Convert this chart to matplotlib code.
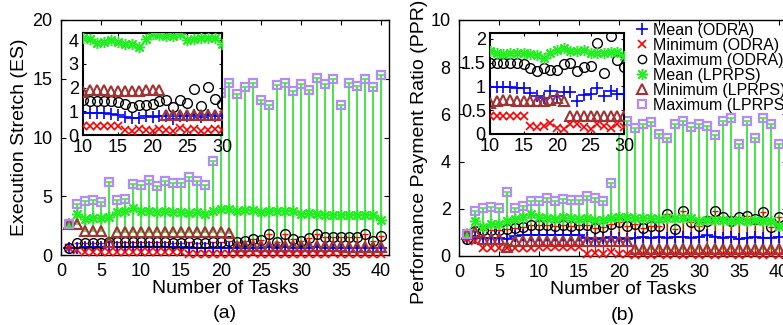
import matplotlib
matplotlib.use('Agg')
import matplotlib.pyplot as plt
from matplotlib.lines import Line2D
import numpy as np

plt.rcParams['font.family'] = ['Liberation Sans', 'DejaVu Sans']

# ---------------- data ----------------
tasks = list(range(1, 41))
inset_tasks = list(range(10, 31))

# (a) Execution Stretch
es_mean_odra = [0.57, 0.62, 0.66, 0.66, 0.66, 0.66, 0.7, 0.7, 0.7, 0.72, 0.72, 0.72, 0.72, 0.7, 0.66, 0.6, 0.58, 0.58, 0.62, 0.6,
                0.62, 0.62, 0.56, 0.62, 0.62, 0.66, 0.6, 0.66, 0.62, 0.62, 0.62, 0.66, 0.62, 0.62, 0.62, 0.6, 0.62, 0.62, 0.58, 0.62]
es_min_odra = [0.57, 0.45, 0.23, 0.23, 0.23, 0.23, 0.23, 0.23, 0.23, 0.23, 0.23, 0.23, 0.23, 0.23, 0.23, 0.05, 0.1, 0.08, 0.1, 0.05,
               0.05, 0.1, 0.05, 0.15, 0.1, 0.05, 0.1, 0.08, 0.12, 0.05, 0.1, 0.05, 0.1, 0.15, 0.08, 0.05, 0.1, 0.12, 0.05, 0.1]
es_max_odra = [0.57, 1.0, 1.0, 1.0, 1.0, 1.1, 1.08, 1.08, 1.08, 1.08, 1.08, 1.08, 1.08, 1.0, 1.0, 1.08, 1.0, 1.0, 1.08, 1.08,
               1.23, 1.08, 1.23, 1.37, 1.29, 1.8, 1.14, 1.8, 1.37, 1.23, 1.46, 1.8, 1.57, 1.51, 1.57, 1.57, 1.51, 1.8, 1.17, 1.65]
es_mean_lprps = [2.6, 3.5, 3.07, 3.16, 3.16, 3.27, 3.7, 3.78, 3.98, 3.78, 3.78, 3.64, 3.78, 3.7, 3.64, 3.58, 3.64, 3.5, 3.78, 3.92,
                 3.93, 3.78, 3.84, 3.87, 3.7, 3.76, 3.76, 3.76, 3.76, 3.5, 3.56, 3.5, 3.44, 3.44, 3.41, 3.44, 3.44, 3.44, 3.44, 2.99]
es_min_lprps = [2.6, 2.6, 2.02, 2.02, 2.02, 1.08, 1.94, 1.94, 1.94, 1.94, 1.94, 1.94, 1.94, 1.94, 1.94, 1.94, 1.94, 1.94, 1.94, 1.94,
                1.9, 0.8, 0.8, 0.8, 0.8, 0.8, 0.8, 0.8, 0.8, 0.8, 0.8, 0.8, 0.8, 0.8, 0.8, 0.7, 0.7, 0.7, 0.7, 0.7]
es_max_lprps = [2.6, 4.35, 4.57, 4.7, 4.55, 6.2, 4.7, 4.8, 6.05, 5.97, 6.4, 5.83, 6.34, 6.14, 6.14, 6.62, 6.34, 6.0, 8.0, 13.8,
                14.6, 13.7, 14.3, 14.6, 13.2, 12.75, 14.46, 14.66, 13.98, 14.54, 14.06, 15.08, 14.57, 14.94, 12.8, 14.63, 14.35, 14.94, 14.26, 15.28]

# (a) inset, tasks 10..30
es_in_mean_odra = [0.92, 0.92, 0.92, 0.92, 0.9, 0.85, 0.75, 0.72, 0.72, 0.8, 0.75, 0.8, 0.78, 0.68, 0.8, 0.8, 0.85, 0.75, 0.85, 0.8, 0.8]
es_in_min_odra = [0.38, 0.38, 0.38, 0.38, 0.38, 0.38, 0.2, 0.15, 0.25, 0.2, 0.15, 0.25, 0.2, 0.15, 0.3, 0.2, 0.25, 0.15, 0.2, 0.25, 0.2]
es_in_max_odra = [1.48, 1.45, 1.45, 1.45, 1.43, 1.41, 1.31, 1.19, 1.27, 1.27, 1.31, 1.43, 1.48, 1.19, 1.48, 1.36, 1.93, 1.22, 2.01, 1.51, 1.31]
es_in_mean_lprps = [4.08, 4.04, 3.89, 3.94, 4.01, 3.94, 3.84, 3.84, 3.73, 4.04, 4.26, 4.22, 4.18, 4.18, 4.25, 4.01, 4.04, 4.08, 4.08, 4.08, 3.83]
es_in_min_lprps = [1.8, 1.9, 1.88, 1.88, 1.86, 1.86, 1.84, 1.84, 1.86, 1.88, 1.88, 1.88, 0.84, 0.84, 0.84, 0.84, 0.84, 0.84, 0.84, 0.84, 0.84]

# (b) Performance Payment Ratio
ppr_mean_odra = [0.72, 0.76, 0.76, 0.76, 0.76, 0.72, 0.85, 0.88, 0.9, 0.9, 0.9, 0.9, 0.9, 0.88, 0.88, 0.76, 0.72, 0.76, 0.8, 0.76,
                 0.72, 0.76, 0.8, 0.76, 0.8, 0.78, 0.8, 0.82, 0.78, 0.8, 0.88, 0.82, 0.78, 0.82, 0.7, 0.78, 0.8, 0.78, 0.78, 0.8]
ppr_min_odra = [0.72, 0.65, 0.34, 0.34, 0.34, 0.34, 0.34, 0.34, 0.34, 0.37, 0.37, 0.37, 0.37, 0.37, 0.37, 0.1, 0.12, 0.1, 0.15, 0.08,
                0.1, 0.05, 0.08, 0.05, 0.1, 0.05, 0.08, 0.05, 0.08, 0.05, 0.1, 0.05, 0.08, 0.1, 0.05, 0.08, 0.1, 0.05, 0.1, 0.05]
ppr_max_odra = [0.72, 1.07, 1.1, 1.1, 1.1, 1.14, 1.19, 1.24, 1.31, 1.31, 1.31, 1.28, 1.31, 1.28, 1.31, 1.31, 1.19, 1.24, 1.36, 1.42,
                1.28, 1.36, 1.19, 1.28, 1.28, 1.8, 1.14, 1.92, 1.42, 1.28, 1.5, 1.92, 1.66, 1.5, 1.64, 1.71, 1.57, 1.85, 1.21, 1.66]
ppr_mean_lprps = [0.93, 1.47, 1.21, 1.36, 1.36, 1.5, 1.57, 1.66, 1.78, 1.66, 1.61, 1.57, 1.64, 1.61, 1.57, 1.61, 1.52, 1.52, 1.61, 1.66,
                  1.66, 1.61, 1.61, 1.61, 1.57, 1.61, 1.61, 1.61, 1.61, 1.5, 1.52, 1.52, 1.52, 1.5, 1.52, 1.5, 1.52, 1.5, 1.5, 1.28]
ppr_min_lprps = [0.93, 1.0, 0.72, 0.72, 0.72, 0.4, 0.65, 0.65, 0.65, 0.65, 0.65, 0.65, 0.65, 0.65, 0.65, 0.65, 0.65, 0.65, 0.65, 0.65,
                 0.65, 0.3, 0.3, 0.3, 0.3, 0.3, 0.3, 0.3, 0.3, 0.3, 0.3, 0.3, 0.3, 0.3, 0.3, 0.3, 0.3, 0.3, 0.3, 0.3]
ppr_max_lprps = [0.93, 1.92, 2.02, 2.09, 2.02, 2.73, 2.03, 2.1, 2.34, 2.34, 2.44, 2.31, 2.41, 2.37, 2.37, 2.55, 2.44, 2.31, 3.11, 5.6,
                 5.72, 5.41, 5.58, 5.69, 5.16, 5.02, 5.61, 5.72, 5.47, 5.58, 5.51, 5.13, 5.72, 5.83, 4.74, 5.72, 4.99, 5.83, 5.61, 4.74]

# (b) inset, tasks 10..30
ppr_in_mean_odra = [0.99, 0.99, 0.99, 0.99, 0.97, 0.97, 0.87, 0.79, 0.76, 0.9, 0.8, 0.88, 0.88, 0.69, 0.81, 0.85, 0.97, 0.79, 0.9, 0.85, 0.85]
ppr_in_min_odra = [0.37, 0.37, 0.37, 0.37, 0.37, 0.37, 0.17, 0.15, 0.17, 0.24, 0.12, 0.1, 0.2, 0.2, 0.15, 0.1, 0.2, 0.17, 0.12, 0.22, 0.15]
ppr_in_max_odra = [1.49, 1.49, 1.49, 1.49, 1.48, 1.46, 1.39, 1.32, 1.39, 1.35, 1.35, 1.47, 1.48, 1.32, 1.4, 1.42, 1.92, 1.27, 2.05, 1.55, 1.41]
ppr_in_mean_lprps = [1.74, 1.7, 1.68, 1.7, 1.71, 1.7, 1.67, 1.65, 1.6, 1.71, 1.77, 1.81, 1.74, 1.75, 1.76, 1.7, 1.71, 1.71, 1.72, 1.72, 1.63]
ppr_in_min_lprps = [0.66, 0.7, 0.72, 0.72, 0.7, 0.69, 0.69, 0.7, 0.7, 0.71, 0.75, 0.69, 0.37, 0.37, 0.37, 0.37, 0.37, 0.37, 0.37, 0.37, 0.37]

legend_labels = ['Mean (ODRA)', 'Minimum (ODRA)', 'Maximum (ODRA)',
                 'Mean (LPRPS)', 'Minimum (LPRPS)', 'Maximum (LPRPS)']

# ---------------- styles ----------------
BLUE = '#0000ff'
RED = '#ff0000'
GREEN = '#22ee22'
GREEN_BAR = '#44e844'
BROWN = '#a33333'
PURPLE = '#b48cf5'
AST = (8, 2, 0)

FS = 13      # tick labels
LFS = 14     # axis labels

fig = plt.figure(figsize=(7.83, 3.25), dpi=100)


def px_axes(l, t, r, b, **kw):
    return fig.add_axes([l / 783, 1 - b / 325, (r - l) / 783, (b - t) / 325], **kw)


def style_axes(ax, fs, pad):
    ax.tick_params(direction='in', top=True, right=True, labelsize=fs, pad=pad,
                   length=3.5, width=0.8)
    for s in ax.spines.values():
        s.set_linewidth(1.0)
        s.set_color('black')


def draw_main(ax, mean_o, min_o, max_o, mean_l, min_l, max_l):
    x = tasks
    ax.vlines(x, min_l, max_l, color=GREEN_BAR, lw=1.4, zorder=1)
    ax.plot(x, max_l, ls='none', marker='_', ms=4, mew=1.2, color=GREEN_BAR, zorder=1)
    ax.plot(x, min_l, ls='none', marker='_', ms=4, mew=1.2, color=GREEN_BAR, zorder=1)
    ax.vlines(x, min_o, max_o, color=RED, lw=0.9, zorder=2)
    ax.plot(x, max_o, ls='none', marker='_', ms=4, mew=1.0, color=RED, zorder=2)
    ax.plot(x, mean_o, color=BLUE, lw=1.0, marker='+', ms=8, mew=1.2, zorder=3, clip_on=False)
    ax.plot(x, min_o, ls='none', color=RED, marker='x', ms=6, mew=1.2, zorder=3, clip_on=False)
    ax.plot(x, max_o, ls='none', marker='o', mfc='none', mec='black', ms=7, mew=1.0, zorder=3, clip_on=False)
    ax.plot(x, mean_l, color=GREEN, lw=1.0, marker=AST, ms=8, mew=1.1, zorder=4, clip_on=False)
    ax.plot(x, min_l, ls='none', marker='^', mfc='none', mec=BROWN, ms=7, mew=1.5, zorder=4, clip_on=False)
    ax.plot(x, max_l, ls='none', marker='s', mfc='none', mec=PURPLE, ms=6, mew=1.6, zorder=4, clip_on=False)
    ax.set_xlim(0, 41)
    ax.set_xticks(range(0, 41, 5))


def draw_inset(ax, mean_o, min_o, max_o, mean_l, min_l):
    x = inset_tasks
    ax.plot(x, mean_o, ls='none', color=BLUE, marker='+', ms=8, mew=1.2, zorder=3)
    ax.plot(x, min_o, ls='none', color=RED, marker='x', ms=6, mew=1.2, zorder=3)
    ax.plot(x, max_o, ls='none', marker='o', mfc='none', mec='black', ms=7, mew=1.0, zorder=3)
    ax.plot(x, mean_l, ls='none', color=GREEN, marker=AST, ms=8, mew=1.1, zorder=4)
    ax.plot(x, min_l, ls='none', marker='^', mfc='none', mec=BROWN, ms=7, mew=1.5, zorder=4)
    ax.set_xlim(10, 30)
    ax.set_xticks(range(10, 31, 5))


# ---- panel (a) ----
axL = px_axes(61, 20, 389, 255)
draw_main(axL, es_mean_odra, es_min_odra, es_max_odra, es_mean_lprps, es_min_lprps, es_max_lprps)
axL.set_ylim(0, 20)
axL.set_yticks(range(0, 21, 5))
style_axes(axL, FS, 6)
axL.set_ylabel('Execution Stretch (ES)', fontsize=LFS)
axL.yaxis.set_label_coords(-0.10, 0.5)
axL.set_xlabel('Number of Tasks', fontsize=LFS)
axL.xaxis.set_label_coords(0.5, -0.105)
axL.text(0.5, -0.25, '(a)', transform=axL.transAxes, ha='center', va='center', fontsize=LFS)

inL = px_axes(83, 33, 222, 135, facecolor='white', zorder=10)
draw_inset(inL, es_in_mean_odra, es_in_min_odra, es_in_max_odra, es_in_mean_lprps, es_in_min_lprps)
inL.set_ylim(0, 4.3)
inL.set_yticks(range(0, 5))
style_axes(inL, FS, 3)
inL.tick_params(length=2.5)
for s in inL.spines.values():
    s.set_linewidth(1.5)

# ---- panel (b) ----
axR = px_axes(459, 20, 787, 256)
draw_main(axR, ppr_mean_odra, ppr_min_odra, ppr_max_odra, ppr_mean_lprps, ppr_min_lprps, ppr_max_lprps)
axR.set_ylim(0, 10)
axR.set_yticks(range(0, 11, 2))
style_axes(axR, FS, 6)
axR.set_ylabel('Performance Payment Ratio (PPR)', fontsize=LFS)
axR.yaxis.set_label_coords(-0.095, 0.44)
axR.set_xlabel('Number of Tasks', fontsize=LFS)
axR.xaxis.set_label_coords(0.5, -0.105)
axR.text(0.5, -0.25, '(b)', transform=axR.transAxes, ha='center', va='center', fontsize=LFS)

inR = px_axes(490, 33, 624, 134, facecolor='white', zorder=10)
draw_inset(inR, ppr_in_mean_odra, ppr_in_min_odra, ppr_in_max_odra, ppr_in_mean_lprps, ppr_in_min_lprps)
inR.set_ylim(0, 2.12)
inR.set_yticks([0, 0.5, 1, 1.5, 2])
inR.set_yticklabels(['0', '0.5', '1', '1.5', '2'])
style_axes(inR, FS, 3)
inR.tick_params(length=2.5)
for s in inR.spines.values():
    s.set_linewidth(1.5)

# ---- legend ----
handles = [
    Line2D([], [], ls='none', color=BLUE, marker='+', ms=8, mew=1.2),
    Line2D([], [], ls='none', color=RED, marker='x', ms=6, mew=1.2),
    Line2D([], [], ls='none', marker='o', mfc='none', mec='black', ms=6, mew=1.0),
    Line2D([], [], ls='none', color=GREEN, marker=AST, ms=8, mew=1.1),
    Line2D([], [], ls='none', marker='^', mfc='none', mec=BROWN, ms=7, mew=1.5),
    Line2D([], [], ls='none', marker='s', mfc='none', mec=PURPLE, ms=6, mew=1.6),
]
leg = fig.legend(handles, legend_labels, loc='upper left', bbox_to_anchor=(634 / 783, 1 - 23 / 325),
                 frameon=False, fontsize=11.5, handlelength=1.0, handletextpad=0.2,
                 labelspacing=0.0, borderpad=0, borderaxespad=0)
leg.set_zorder(20)

fig.savefig('out.png', dpi=100)
